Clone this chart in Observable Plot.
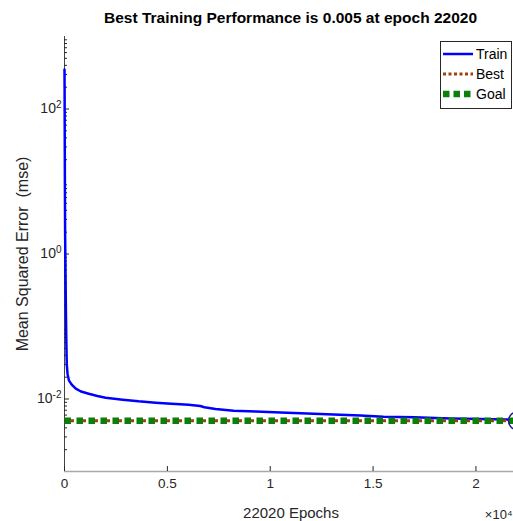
<!DOCTYPE html>
<html>
<head>
<meta charset="utf-8">
<script src="https://cdn.jsdelivr.net/npm/d3@7"></script>
<script src="https://cdn.jsdelivr.net/npm/@observablehq/plot@0.6"></script>
<style>
  body { margin: 0; background: #fff; }
  #wrap { position: relative; width: 513px; height: 521px; overflow: hidden; background: #fff;
          font-family: "Liberation Sans", Arial, Helvetica, sans-serif; color: #262626; }
  #title { box-sizing: border-box; height: 30px; padding: 9px 0 0 64px; width: 517px; text-align: center;
           font-weight: bold; font-size: 15.5px; line-height: 17px; color: #000; white-space: nowrap; }
  #legend { position: absolute; left: 440px; top: 41px; width: 70px; height: 64px; box-sizing: content-box;
            border: 1px solid #262626; background: #fff; padding-top: 2px; }
  .row { height: 20px; display: flex; align-items: center; font-size: 14px; color: #000; }
  .row svg { margin-left: 2px; margin-right: 3px; flex: none; }
</style>
</head>
<body>
<div id="wrap">
  <div id="title"></div>
  <div id="chart"></div>
  <div id="legend"></div>
</div>
<script>
// ---- data ----
const titleText = "Best Training Performance is 0.005 at epoch 22020";
const yLabel = "Mean Squared Error  (mse)";
const xLabel = "22020 Epochs";
const xExponent = "×10⁴";

const epochs = [0, 5, 10, 20, 30, 50, 70, 90, 110, 150, 220, 350, 550, 800, 1180, 1600, 2000, 2830, 3600, 4430, 5200, 6030, 6600, 6800, 7340, 8220, 9300, 10500, 11800, 13070, 14380, 15500, 17000, 18750, 20200, 21520, 22020];
const trainPerf = [350, 200, 60, 8, 2.0, 0.5, 0.15, 0.06, 0.03, 0.022, 0.0179, 0.0158, 0.0139, 0.0127, 0.0118, 0.0110, 0.0104, 0.0098, 0.0093, 0.0089, 0.0086, 0.0083, 0.0080, 0.0077, 0.0073, 0.0069, 0.0067, 0.0065, 0.0063, 0.0061, 0.0059, 0.0057, 0.0056, 0.0054, 0.0053, 0.0052, 0.0050];

const bestEpoch = 22020;
const bestPerf = 0.005;
const goalPerf = 0.005;
const lastEpoch = 22020;

const yMajorTicks = [1e-2, 1, 1e2];
const yMajorBase = ["10", "10", "10"];
const yMajorExp = ["-2", "0", "2"];
const xTicks = [0, 5000, 10000, 15000, 20000];
const xTickLabels = ["0", "0.5", "1", "1.5", "2"];

const seriesNames = ["Train", "Best", "Goal"];
const seriesColors = ["#0000ff", "#a0400f", "#0a7f0a"];

// ---- derived tables ----
const train = epochs.map((e, i) => ({epoch: e, perf: trainPerf[i]}));
const bestLine = [{epoch: 0, perf: bestPerf}, {epoch: lastEpoch, perf: bestPerf}];
const goalLine = [{epoch: 0, perf: goalPerf}, {epoch: lastEpoch, perf: goalPerf}];
const yMinor = [];
for (let p = -3; p < 3; p++) for (let k = 2; k <= 9; k++) yMinor.push(k * Math.pow(10, p));

const font = '"Liberation Sans", Arial, Helvetica, sans-serif';

document.getElementById("title").textContent = titleText;

const chart = Plot.plot({
  width: 513,
  height: 491,
  marginLeft: 64,
  marginRight: -4,
  marginTop: 6,
  marginBottom: 50,
  style: {fontFamily: font, fontSize: "13px", color: "#262626", background: "transparent", overflow: "visible"},
  x: {domain: [0, lastEpoch]},
  y: {type: "log", domain: [1e-3, 1e3]},
  marks: [
    Plot.ruleY([1e-3], {stroke: "#a8a8a8", strokeWidth: 1.5}),
    Plot.ruleX([0], {stroke: "#444", strokeWidth: 1}),
    Plot.axisY({ticks: yMinor, tickSize: -3, tickFormat: () => "", label: null, stroke: "#262626"}),
    Plot.axisY({ticks: yMajorTicks, tickSize: -5, tickPadding: 8, label: null, fontSize: 14,
                tickFormat: d => { const i = yMajorTicks.indexOf(d); return yMajorBase[i] + "^" + yMajorExp[i]; },
                stroke: "#262626"}),
    Plot.axisX({ticks: xTicks, tickSize: -5, tickPadding: 12, label: null, fontSize: 13.5,
                tickFormat: d => xTickLabels[xTicks.indexOf(d)], stroke: "#262626"}),
    Plot.text([yLabel], {text: d => d, frameAnchor: "left", textAnchor: "middle", lineAnchor: "middle",
                         rotate: -90, dx: -42, fontSize: 16, fill: "#262626"}),
    Plot.text([xLabel], {text: d => d, frameAnchor: "bottom", textAnchor: "middle", lineAnchor: "middle",
                         dy: 42, fontSize: 15, fill: "#262626"}),
    Plot.text([xExponent], {text: d => d, frameAnchor: "bottom-right", textAnchor: "end", lineAnchor: "middle",
                            dy: 43, dx: -5, fontSize: 13, fill: "#262626"}),
    Plot.line(train, {x: "epoch", y: "perf", stroke: seriesColors[0], strokeWidth: 2.5}),
    Plot.line(bestLine, {x: "epoch", y: "perf", stroke: seriesColors[1], strokeWidth: 3,
                         strokeDasharray: "3,3", strokeDashoffset: -0.5, strokeLinecap: "butt"}),
    Plot.line(goalLine, {x: "epoch", y: "perf", stroke: seriesColors[2], strokeWidth: 6.5,
                         strokeDasharray: "6.5,5.5", strokeLinecap: "butt"}),
    Plot.dot([{epoch: bestEpoch, perf: bestPerf}], {x: "epoch", y: "perf", r: 9, stroke: "#1c1c8a", strokeWidth: 1.5, fill: "none"})
  ]
});
document.getElementById("chart").appendChild(chart);

// superscript exponents on the y tick labels (kept as real text)
const ns = "http://www.w3.org/2000/svg";
Array.from(chart.querySelectorAll("text")).forEach(t => {
  const s = t.textContent;
  if (!s.includes("^")) return;
  const [b, e] = s.split("^");
  while (t.firstChild) t.removeChild(t.firstChild);
  const t1 = document.createElementNS(ns, "tspan"); t1.textContent = b;
  const t2 = document.createElementNS(ns, "tspan"); t2.textContent = e;
  t2.setAttribute("dy", "-0.5em"); t2.setAttribute("font-size", "10px");
  t.appendChild(t1); t.appendChild(t2);
});

// ---- legend ----
const legend = document.getElementById("legend");
const dashes = [null, "3,2.5", "6.5,4"];
const widths = [2.5, 3, 6.5];
seriesNames.forEach((name, i) => {
  const row = document.createElement("div");
  row.className = "row";
  const s = document.createElementNS(ns, "svg");
  s.setAttribute("width", 30); s.setAttribute("height", 20);
  const l = document.createElementNS(ns, "line");
  l.setAttribute("x1", 0); l.setAttribute("x2", 30); l.setAttribute("y1", 10); l.setAttribute("y2", 10);
  l.setAttribute("stroke", seriesColors[i]); l.setAttribute("stroke-width", widths[i]);
  l.setAttribute("stroke-linecap", "butt");
  if (dashes[i]) l.setAttribute("stroke-dasharray", dashes[i]);
  s.appendChild(l);
  row.appendChild(s);
  const t = document.createElement("span");
  t.textContent = name;
  row.appendChild(t);
  legend.appendChild(row);
});
</script>
</body>
</html>
